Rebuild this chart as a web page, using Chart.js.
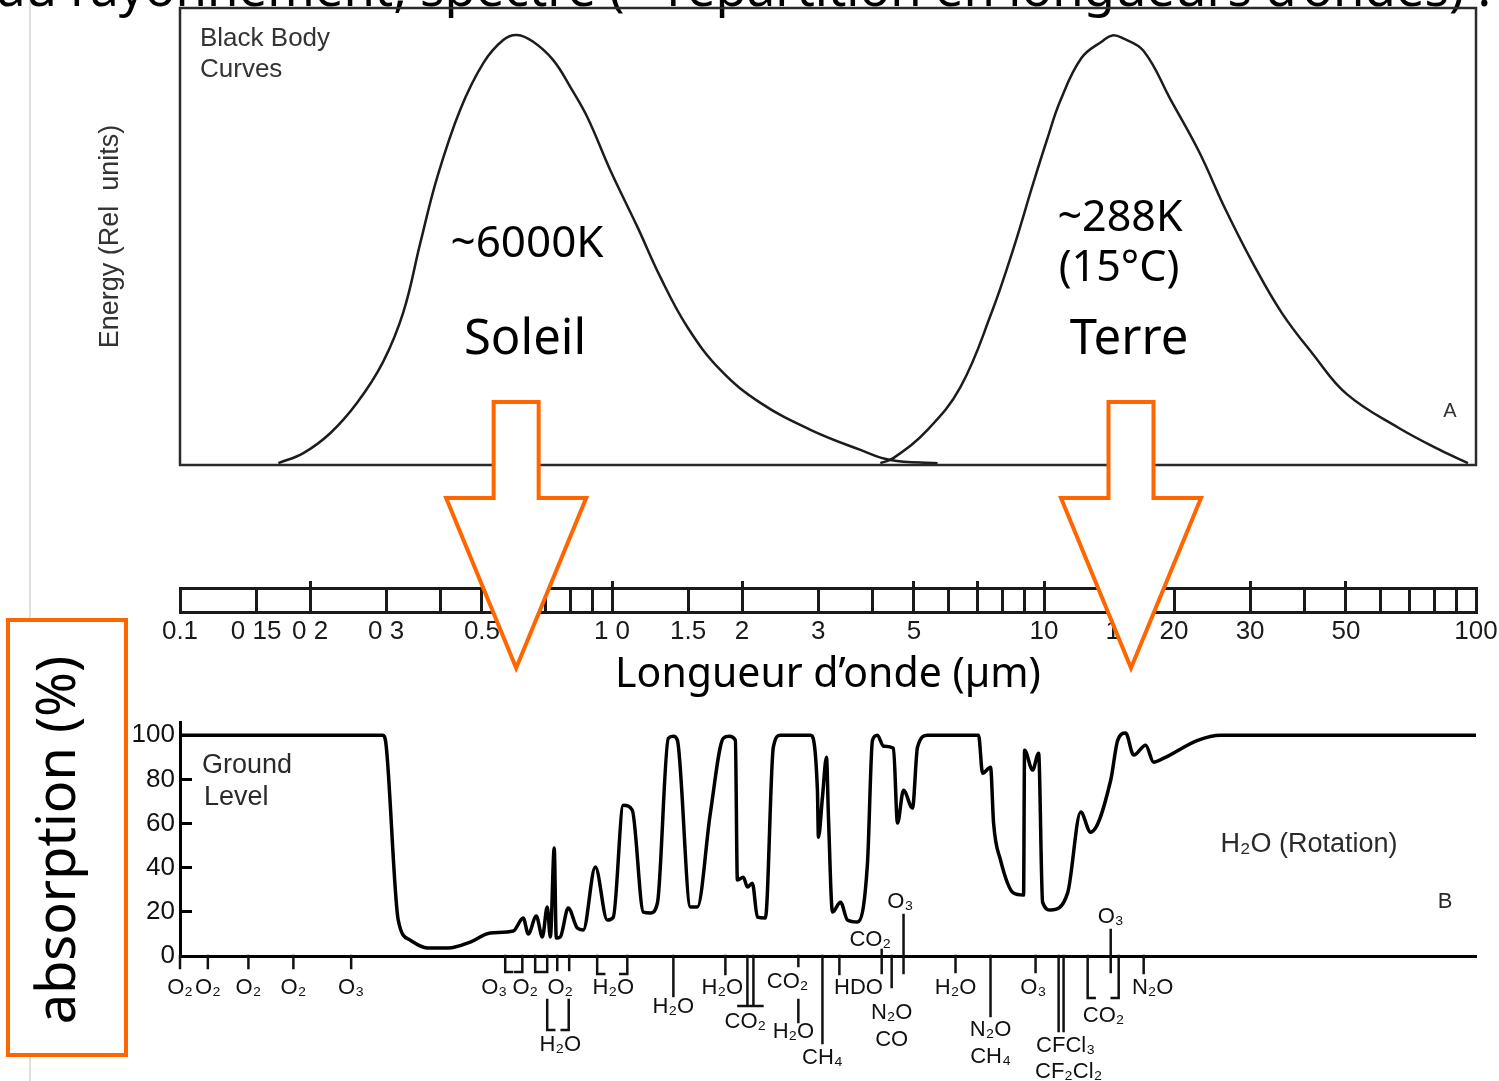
<!DOCTYPE html>
<html><head><meta charset="utf-8">
<script src="https://cdn.jsdelivr.net/npm/chart.js@4.4.1/dist/chart.umd.min.js"></script>
<style>
html,body{margin:0;padding:0;background:#fff;}
#wrap{position:relative;width:1499px;height:1081px;overflow:hidden;background:#fff;}
canvas{position:absolute;left:0;top:0;}
</style></head><body>
<div id="wrap">
<canvas id="cTop" width="1499" height="1081"></canvas>
<canvas id="cRuler" width="1499" height="1081"></canvas>
<canvas id="cAbs" width="1499" height="1081"></canvas>
</div>
<script>
// ---------- DATA ----------
const WL_MIN = 0.1, WL_MAX = 100;

// Black body curves (wavelength in µm, relative energy)
const sunWavelength = [0.169,0.193,0.223,0.257,0.295,0.329,0.360,0.394,0.445,0.504,0.560,0.603,0.657,0.731,0.801,0.877,0.991,1.145,1.294,1.494,1.782,2.206,2.880,3.760,4.413,5.670];
const sunEnergy     = [0.4,2.6,7.0,13.6,22.5,33.5,48.6,63.0,77.7,88.0,93.0,94.1,92.6,88.6,82.7,76.1,64.5,52.1,41.1,30.2,20.8,13.6,7.7,3.3,1.1,0.4];

const earthWavelength = [4.18,4.48,5.375,6.41,7.56,8.46,9.46,10.14,10.93,12.22,13.67,14.4,15.21,17.01,19.65,22.81,26.35,30.59,35.51,41.90,50.23,66.29,82.49,95.8];
const earthEnergy     = [0.4,1.5,7.7,17.1,33.3,46.8,61.9,70.9,79.9,89.1,92.8,94.0,93.4,90.6,79.9,68.7,55.8,43.8,33.3,24.3,15.5,8.1,3.3,0.4];

// Atmospheric absorption at ground level (wavelength in µm, %)
const absWavelength = [0.1,0.295,0.300,0.320,0.341,0.374,0.418,0.470,0.523,0.591,0.623,0.640,0.668,0.690,0.708,0.720,0.735,0.743,0.759,0.792,0.831,0.858,0.915,0.975,1.007,1.062,1.114,1.182,1.227,1.274,1.350,1.387,1.417,1.519,1.576,1.689,1.810,1.869,1.930,1.951,2.014,2.058,2.113,2.171,2.265,2.363,2.453,2.880,2.989,3.005,3.070,3.137,3.170,3.239,3.380,3.508,3.700,3.903,4.008,4.116,4.250,4.483,4.580,4.729,4.961,5.095,5.375,7.055,7.208,7.521,7.643,7.933,8.503,8.968,9.016,9.410,9.716,9.926,10.36,11.34,12.16,12.82,14.27,14.81,15.45,16.13,17.19,17.94,18.93,22.69,25.66,100];
const absorption    = [100,100,95.5,16.3,7.2,3.6,3.6,6.3,10.4,11.3,17.2,10.0,18.1,8.6,22.2,8.6,48.9,8.1,8.6,21.7,12.7,11.8,40.3,16.3,17.6,68.3,66.1,19.9,19.5,24.0,98.6,99.5,97.7,22.2,22.2,64.7,98.6,99.5,97.7,34.4,35.7,31.2,33.0,17.6,17.2,94.6,100,100,75.1,53.8,71.9,90.0,62.9,19.9,24.4,16.3,15.4,42.1,97.7,100,95.0,94.1,60.2,75.1,67.0,94.6,100,100,82.8,85.5,60.2,43.4,28.5,27.6,93.2,84.2,91.9,24.4,20.8,28.5,65.2,56.1,79.6,97.7,101,91.0,95.5,87.8,89.6,97.7,100,100];

// Wavelength ruler
const rulerTicks  = [0.1,0.15,0.2,0.3,0.4,0.5,0.6,0.7,0.8,0.9,1,1.5,2,3,4,5,6,7,8,9,10,15,20,30,40,50,60,70,80,90,100];
const rulerLabels = ['0.1','0 15','0 2','0 3','','0.5','','','','','1 0','1.5','2','3','','5','','','','','10','15','20','30','','50','','','','','100'];
const rulerMajorTicks = [0.2,1,2,5,7,10,30,50];

// Absorption axis ticks
const absTickStep = 20;

// Arrows point at these wavelengths (µm)
const arrowWavelengths = [0.6, 15.9];

// Absorbing molecules under the absorption axis
const moleculeMarks = [
  {lam:[0.1],y0:0,y1:12},{lam:[0.116],y0:0,y1:12},{lam:[0.144],y0:0,y1:12},{lam:[0.183],y0:0,y1:12},{lam:[0.249],y0:0,y1:12},
  {lam:[0.566,0.620],y0:0,y1:16,shape:'bracket'},{lam:[0.664,0.708],y0:0,y1:16,shape:'bracket'},
  {lam:[0.747],y0:0,y1:14},{lam:[0.796],y0:0,y1:14},
  {lam:[0.708,0.794],y0:44,y1:74,shape:'bracket'},
  {lam:[0.924,1.085],y0:0,y1:18,shape:'bracket'},
  {lam:[1.387],y0:0,y1:40},{lam:[1.83],y0:0,y1:18},
  {lam:[2.058,2.125],y0:0,y1:50,shape:'bar'},
  {lam:[2.70],y0:0,y1:10},{lam:[2.70],y0:44,y1:66},
  {lam:[3.07],y0:0,y1:87},{lam:[3.36],y0:0,y1:18},
  {lam:[4.21],y0:-6,y1:17},{lam:[4.44],y0:0,y1:31},{lam:[4.73],y0:-41,y1:17},
  {lam:[6.24],y0:0,y1:16},{lam:[7.52],y0:0,y1:60},{lam:[9.56],y0:0,y1:16},
  {lam:[10.81,11.10],y0:0,y1:75},
  {lam:[12.62,14.89],y0:0,y1:42,shape:'bracket'},
  {lam:[14.27],y0:-26,y1:16},{lam:[17.01],y0:0,y1:17}
];
const moleculeLabels = [
  {t:'O₂',lam:0.1,dy:32},{t:'O₂',lam:0.116,dy:32},{t:'O₂',lam:0.144,dy:32},{t:'O₂',lam:0.183,dy:32},{t:'O₃',lam:0.249,dy:32},
  {t:'O₃',lam:0.534,dy:32},{t:'O₂',lam:0.630,dy:32},{t:'O₂',lam:0.759,dy:32},{t:'H₂O',lam:0.759,dy:89},
  {t:'H₂O',lam:1.007,dy:32},{t:'H₂O',lam:1.387,dy:51},{t:'H₂O',lam:1.80,dy:32},
  {t:'CO₂',lam:2.036,dy:66},{t:'CO₂',lam:2.55,dy:26},{t:'H₂O',lam:2.63,dy:76},{t:'CH₄',lam:3.07,dy:102},
  {t:'HDO',lam:3.72,dy:32},{t:'CO₂',lam:3.96,dy:-16},{t:'N₂O',lam:4.44,dy:57},{t:'CO',lam:4.44,dy:84},{t:'O₃',lam:4.65,dy:-54},
  {t:'H₂O',lam:6.24,dy:32},{t:'N₂O',lam:7.52,dy:74},{t:'CH₄',lam:7.52,dy:101},{t:'O₃',lam:9.45,dy:32},
  {t:'CFCl₃',lam:11.22,dy:90},{t:'CF₂Cl₂',lam:11.4,dy:116},{t:'CO₂',lam:13.74,dy:60},{t:'O₃',lam:14.27,dy:-39},{t:'N₂O',lam:17.85,dy:32}
];

// ---------- STYLE ----------
const FIG_FONT = '"Liberation Sans", Arial, sans-serif';
const OVER_FONT = '"Noto Sans", "Open Sans", sans-serif';
const ORANGE = '#ff6600';

function pts(xs, ys){ return xs.map((x,i)=>({x:x, y:ys[i]})); }
function logX(extra){ return Object.assign({type:'logarithmic', min:WL_MIN, max:WL_MAX}, extra); }
function fixBox(size){ return function(s){ if (s.isHorizontal()) s.height = size; else s.width = size; s.paddingLeft = s.paddingRight = s.paddingTop = s.paddingBottom = 0; }; }
function txt(ctx, t, x, y, font, color, align, base){
  ctx.save(); ctx.font = font; ctx.fillStyle = color; ctx.textAlign = align || 'left'; ctx.textBaseline = base || 'middle';
  ctx.fillText(t, x, y); ctx.restore();
}

// ---------- TOP: black body curves ----------
const topDecor = {
  id:'topDecor',
  beforeDraw(chart){
    const ctx = chart.ctx;
    ctx.save();
    ctx.strokeStyle = '#d4d4d4'; ctx.lineWidth = 1.5;
    ctx.beginPath(); ctx.moveTo(30,0); ctx.lineTo(30,1081); ctx.stroke();
    const heading = 'au rayonnement, spectre (= répartition en longueurs d’ondes) :';
    ctx.font = '46px ' + OVER_FONT;
    const w = ctx.measureText(heading).width;
    const size = 46 * 1494 / w;
    ctx.font = size.toFixed(1) + 'px ' + OVER_FONT;
    ctx.fillStyle = '#000'; ctx.textBaseline = 'alphabetic'; ctx.textAlign = 'left';
    ctx.fillText(heading, -3, 6);
    ctx.restore();
  },
  afterDraw(chart){
    const ctx = chart.ctx, a = chart.chartArea;
    ctx.save();
    ctx.strokeStyle = '#2b2b2b'; ctx.lineWidth = 2.5;
    ctx.strokeRect(a.left, a.top, a.right - a.left, a.bottom - a.top);
    ctx.restore();
    txt(ctx, 'Black Body', a.left + 20, a.top + 31, '26px ' + FIG_FONT, '#333');
    txt(ctx, 'Curves', a.left + 20, a.top + 62, '26px ' + FIG_FONT, '#333');
    txt(ctx, 'A', a.right - 26, 411, '20px ' + FIG_FONT, '#333', 'center');
    txt(ctx, '~6000K', 527, 257, '44px ' + OVER_FONT, '#000', 'center', 'alphabetic');
    txt(ctx, 'Soleil', 525, 354, '49px ' + OVER_FONT, '#000', 'center', 'alphabetic');
    txt(ctx, '~288K', 1120, 231, '43px ' + OVER_FONT, '#000', 'center', 'alphabetic');
    txt(ctx, '(15°C)', 1119, 281, '43px ' + OVER_FONT, '#000', 'center', 'alphabetic');
    txt(ctx, 'Terre', 1129, 354, '49px ' + OVER_FONT, '#000', 'center', 'alphabetic');
  }
};

new Chart(document.getElementById('cTop'), {
  type:'line',
  data:{datasets:[
    {label:'Soleil ~6000K', data:pts(sunWavelength, sunEnergy), borderColor:'#1c1c1c', borderWidth:2.5, pointRadius:0, tension:0.4, fill:false},
    {label:'Terre ~288K', data:pts(earthWavelength, earthEnergy), borderColor:'#1c1c1c', borderWidth:2.5, pointRadius:0, tension:0.4, fill:false}
  ]},
  options:{
    responsive:false, animation:false, events:[],
    layout:{padding:{top:8,left:0,right:23,bottom:616}},
    plugins:{legend:{display:false}, tooltip:{enabled:false}},
    scales:{
      x: logX({display:false}),
      y: {min:0, max:100, position:'left',
          ticks:{display:false}, grid:{display:false}, border:{display:false},
          title:{display:true, text:'Energy (Rel  units)', color:'#333', font:{family:FIG_FONT, size:27}, padding:{top:94,bottom:0}},
          afterFit: fixBox(180)}
    }
  },
  plugins:[topDecor]
});

// ---------- MIDDLE: wavelength ruler ----------
new Chart(document.getElementById('cRuler'), {
  type:'line',
  data:{datasets:[]},
  options:{
    responsive:false, animation:false, events:[],
    layout:{padding:{top:581,left:180,right:23,bottom:379}},
    plugins:{legend:{display:false}, tooltip:{enabled:false}},
    scales:{
      x: logX({position:'bottom',
        afterBuildTicks: s => { s.ticks = rulerTicks.map(v => ({value:v})); },
        ticks:{autoSkip:false, maxRotation:0, minRotation:0, padding:4, color:'#1a1a1a', font:{family:FIG_FONT, size:26}, callback:(v,i) => rulerLabels[i]},
        grid:{drawOnChartArea:true, drawTicks:false, color:'#1a1a1a', lineWidth:3},
        border:{display:true, color:'#1a1a1a', width:3},
        title:{display:true, text:'Longueur d’onde (µm)', color:'#000', font:{family:OVER_FONT, size:41}, padding:{top:0,bottom:2}},
        afterFit: fixBox(90)}),
      x2: logX({position:'top',
        afterBuildTicks: s => { s.ticks = rulerMajorTicks.map(v => ({value:v})); },
        ticks:{display:false},
        grid:{drawOnChartArea:false, drawTicks:true, tickLength:7, color:'#1a1a1a', lineWidth:3},
        border:{display:true, color:'#1a1a1a', width:3},
        afterFit: fixBox(7)}),
      y:{display:false}
    }
  }
});

// ---------- BOTTOM: absorption ----------
const absDecor = {
  id:'absDecor',
  afterDraw(chart){
    const ctx = chart.ctx, xs = chart.scales.x, ys = chart.scales.y, a = chart.chartArea;
    const axisY = ys.getPixelForValue(0);
    ctx.save();
    ctx.strokeStyle = '#111'; ctx.lineWidth = 2.5; ctx.lineCap = 'square';
    moleculeMarks.forEach(m => {
      const px = m.lam.map(l => xs.getPixelForValue(l));
      ctx.beginPath();
      px.forEach(x => { ctx.moveTo(x, axisY + m.y0); ctx.lineTo(x, axisY + m.y1); });
      if (m.shape === 'bracket') {
        const l = px[0], r = px[px.length-1], foot = Math.min(7, (r - l) / 2);
        ctx.moveTo(l, axisY + m.y1); ctx.lineTo(l + foot, axisY + m.y1);
        ctx.moveTo(r, axisY + m.y1); ctx.lineTo(r - foot, axisY + m.y1);
      } else if (m.shape === 'bar') {
        ctx.moveTo(px[0] - 9, axisY + m.y1); ctx.lineTo(px[px.length-1] + 9, axisY + m.y1);
      }
      ctx.stroke();
    });
    ctx.restore();
    moleculeLabels.forEach(m => txt(ctx, m.t, xs.getPixelForValue(m.lam), axisY + m.dy, '22px ' + FIG_FONT, '#111', 'center'));
    txt(ctx, 'Ground', a.left + 22, 766, '27px ' + FIG_FONT, '#2a2a2a');
    txt(ctx, 'Level', a.left + 24, 798, '27px ' + FIG_FONT, '#2a2a2a');
    txt(ctx, 'H₂O (Rotation)', 1309, 845, '27px ' + FIG_FONT, '#2a2a2a', 'center');
    txt(ctx, 'B', 1445, 902, '22px ' + FIG_FONT, '#2a2a2a', 'center');
    ctx.save();
    ctx.fillStyle = '#fff'; ctx.strokeStyle = ORANGE; ctx.lineWidth = 4;
    ctx.fillRect(8, 620, 118, 435); ctx.strokeRect(8, 620, 118, 435);
    ctx.translate(60, 840); ctx.rotate(-Math.PI/2);
    ctx.font = '54px ' + OVER_FONT; ctx.fillStyle = '#000'; ctx.textAlign = 'center'; ctx.textBaseline = 'middle';
    ctx.fillText('absorption (%)', 0, 0);
    ctx.restore();
    ctx.save();
    ctx.strokeStyle = ORANGE; ctx.fillStyle = '#fff'; ctx.lineWidth = 4; ctx.lineJoin = 'miter';
    arrowWavelengths.forEach(l => {
      const cx = xs.getPixelForValue(l);
      ctx.beginPath();
      ctx.moveTo(cx - 22.5, 402); ctx.lineTo(cx + 22.5, 402); ctx.lineTo(cx + 22.5, 498);
      ctx.lineTo(cx + 70, 498); ctx.lineTo(cx, 668); ctx.lineTo(cx - 70, 498);
      ctx.lineTo(cx - 22.5, 498); ctx.closePath();
      ctx.fill(); ctx.stroke();
    });
    ctx.restore();
  }
};

new Chart(document.getElementById('cAbs'), {
  type:'line',
  data:{datasets:[
    {label:'Absorption', data:pts(absWavelength, absorption), borderColor:'#000', borderWidth:3.5, pointRadius:0, cubicInterpolationMode:'monotone', fill:false}
  ]},
  options:{
    responsive:false, animation:false, events:[],
    layout:{padding:{top:722,left:0,right:23,bottom:115}},
    plugins:{legend:{display:false}, tooltip:{enabled:false}},
    scales:{
      x: logX({ticks:{display:false}, grid:{display:false}, border:{display:true, color:'#000', width:3}, afterFit: fixBox(10)}),
      y: {min:0, max:106,
          ticks:{stepSize:absTickStep, includeBounds:false, padding:17, color:'#111', font:{family:FIG_FONT, size:26}},
          grid:{drawOnChartArea:false, drawTicks:true, tickLength:-12, color:'#000', lineWidth:3},
          border:{display:true, color:'#000', width:3},
          afterFit: fixBox(180)}
    }
  },
  plugins:[absDecor]
});
</script>
</body></html>
